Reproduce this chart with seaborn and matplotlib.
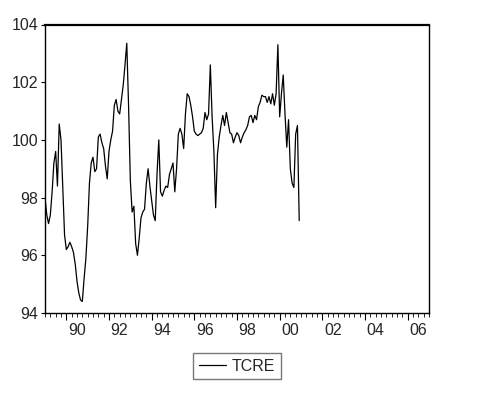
import numpy as np
import pandas as pd
import matplotlib
matplotlib.use("Agg")
import matplotlib.pyplot as plt
from matplotlib.transforms import ScaledTranslation
import seaborn as sns

start_year = 1989
tcre = [
    98.0, 97.4, 97.1, 97.4, 98.2, 99.2, 99.6, 98.4, 100.55, 100.0, 98.4, 96.7,
    96.2, 96.3, 96.45, 96.3, 96.1, 95.7, 95.1, 94.7, 94.45, 94.4, 95.2, 95.9,
    97.0, 98.5, 99.2, 99.4, 98.9, 99.0, 100.1, 100.2, 99.9, 99.7, 99.1, 98.65,
    99.6, 100.0, 100.3, 101.2, 101.4, 101.0, 100.9, 101.4, 101.9, 102.6, 103.35, 101.2,
    98.6, 97.5, 97.7, 96.4, 96.0, 96.6, 97.3, 97.5, 97.6, 98.5, 99.0, 98.4,
    97.9, 97.4, 97.2, 98.8, 100.0, 98.2, 98.05, 98.25, 98.4, 98.35, 98.8, 99.0,
    99.2, 98.2, 99.0, 100.2, 100.4, 100.2, 99.7, 100.9, 101.6, 101.5, 101.2, 100.8,
    100.3, 100.2, 100.15, 100.2, 100.25, 100.4, 100.95, 100.7, 100.9, 102.6, 100.8, 99.6,
    97.65, 99.5, 100.1, 100.5, 100.85, 100.5, 100.95, 100.6, 100.25, 100.2, 99.9, 100.1,
    100.25, 100.15, 99.9, 100.1, 100.25, 100.35, 100.5, 100.8, 100.85, 100.6, 100.85, 100.7,
    101.15, 101.3, 101.55, 101.5, 101.5, 101.3, 101.5, 101.25, 101.6, 101.2, 101.6, 103.3,
    100.8, 101.6, 102.25, 100.9, 99.75, 100.7, 99.0, 98.5, 98.35, 100.2, 100.5, 97.2,
]
series_name = "TCRE"
y_ticks = [94, 96, 98, 100, 102, 104]
x_major_years = list(range(1990, 2007, 2))
x_labels = ["90", "92", "94", "96", "98", "00", "02", "04", "06"]

years = start_year + np.arange(len(tcre)) / 12.0
df = pd.DataFrame({"t": years, series_name: tcre})

sns.set_style("ticks")
plt.rcParams["font.family"] = ["Liberation Sans", "DejaVu Sans"]

fs = 11.5
fig = plt.figure(figsize=(4.91, 3.96), dpi=100)
ax = fig.add_axes([45 / 491, 1 - 313 / 396, (429 - 45) / 491, (313 - 24.5) / 396])

sns.lineplot(data=df, x="t", y=series_name, ax=ax, color="black", linewidth=0.9,
             label=series_name)

ax.set_xlim(1989, 2007)
ax.set_ylim(94, 104)
ax.set_yticks(y_ticks)
ax.set_yticklabels([str(v) for v in y_ticks], fontsize=fs)
ax.set_xticks(x_major_years)
ax.set_xticklabels(x_labels, fontsize=fs)
ax.set_xticks(np.arange(1989, 2007.01, 0.25), minor=True)
ax.tick_params(axis="x", which="major", direction="out", length=5, width=0.8, pad=2, color="black")
ax.tick_params(axis="x", which="minor", direction="out", length=3, width=0.6, color="black")
ax.tick_params(axis="y", which="major", direction="out", length=3, width=0.8, pad=2, color="black")
for lab in ax.get_xticklabels():
    lab.set_transform(lab.get_transform() + ScaledTranslation(10.5 / 100, 0, fig.dpi_scale_trans))

for side, sp in ax.spines.items():
    sp.set_visible(True)
    sp.set_color("black")
    sp.set_linewidth(1.0)
ax.spines["top"].set_linewidth(1.6)

ax.set_xlabel("")
ax.set_ylabel("")

leg = ax.legend(loc="center", bbox_to_anchor=(0.5, -0.184), frameon=True, fancybox=False,
                fontsize=fs, handlelength=1.7, handletextpad=0.4, borderpad=0.35,
                borderaxespad=0)
leg.get_frame().set_edgecolor("#555555")
leg.get_frame().set_linewidth(1.0)

fig.savefig("out.png", dpi=100)
